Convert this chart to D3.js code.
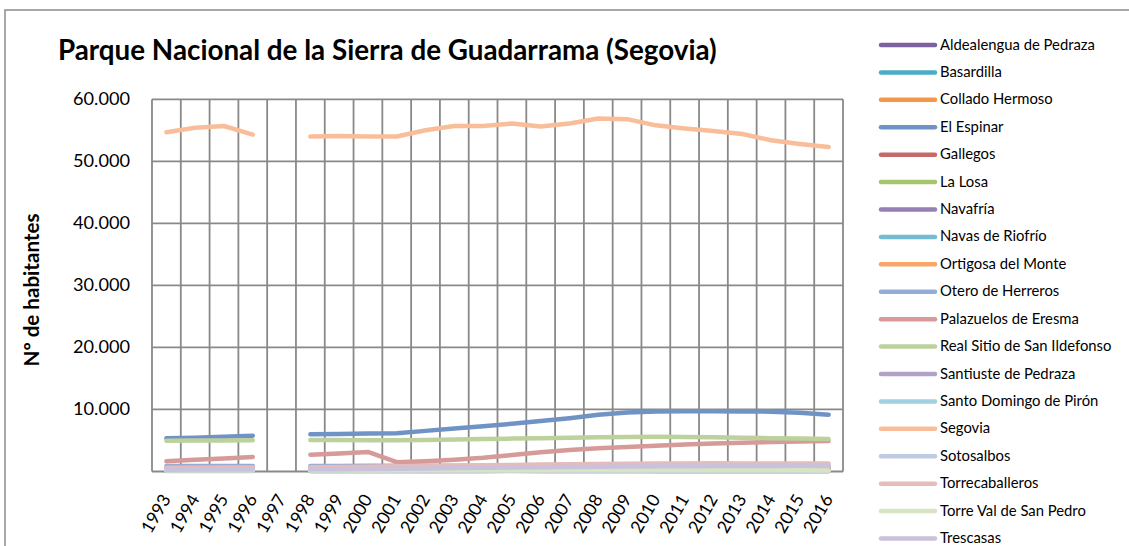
<!DOCTYPE html>
<html>
<head>
<meta charset="utf-8">
<script src="https://cdn.jsdelivr.net/npm/d3@7"></script>
<style>
  html, body { margin: 0; padding: 0; background: #ffffff; }
  svg { display: block; }
  text { font-family: Lato, "Open Sans", sans-serif; fill: #000; }
</style>
</head>
<body>
<svg id="chart" width="1129" height="546"></svg>
<script>
// Population by municipality, Parque Nacional de la Sierra de Guadarrama (Segovia side)
const years = ["1993","1994","1995","1996","1997","1998","1999","2000","2001","2002","2003","2004",
               "2005","2006","2007","2008","2009","2010","2011","2012","2013","2014","2015","2016"];

const yTicks = [10000, 20000, 30000, 40000, 50000, 60000];

const municipios = ["Aldealengua de Pedraza","Basardilla","Collado Hermoso","El Espinar","Gallegos",
  "La Losa","Navafría","Navas de Riofrío","Ortigosa del Monte","Otero de Herreros",
  "Palazuelos de Eresma","Real Sitio de San Ildefonso","Santiuste de Pedraza","Santo Domingo de Pirón",
  "Segovia","Sotosalbos","Torrecaballeros","Torre Val de San Pedro","Trescasas"];

// 1997 has no census figures (null)
const aldealengua   = [140,138,135,130,null,128,126,127,124,122,125,121,119,118,120,117,115,116,113,112,110,108,106,104];
const basardilla    = [150,148,152,155,null,157,160,162,165,170,172,175,178,180,182,178,175,176,172,170,168,165,163,160];
const colladoH      = [160,158,155,152,null,150,149,150,152,155,158,160,162,165,168,170,166,165,163,160,158,156,155,152];
const elEspinar     = [5350,5450,5600,5780,null,6000,6050,6120,6180,6550,6950,7300,7700,8150,8600,9150,9500,9680,9720,9700,9690,9640,9480,9150];
const gallegos      = [110,108,105,102,null,100,98,97,96,95,97,99,101,100,98,96,95,94,92,90,89,88,86,85];
const laLosa        = [430,440,445,450,null,455,460,465,470,480,490,500,510,520,530,535,540,545,540,535,530,525,520,515];
const navafria      = [330,335,340,345,null,345,350,352,355,358,360,362,365,368,370,372,370,368,365,362,358,355,352,350];
const navasRiofrio  = [290,295,300,305,null,310,315,320,325,330,340,350,360,370,380,385,390,388,385,380,375,370,365,360];
const ortigosa      = [330,335,340,345,null,350,360,370,385,400,420,440,460,480,500,520,535,545,550,555,550,545,540,535];
const oteroH        = [880,885,890,895,null,900,905,910,915,920,930,940,950,960,970,985,990,995,990,985,975,965,955,945];
const palazuelos    = [1650,1900,2100,2350,null,2700,2900,3150,1500,1650,1900,2200,2650,3100,3450,3750,3950,4150,4350,4500,4650,4750,4850,4920];
const realSitio     = [4950,4980,5000,5020,null,5080,5060,5050,5030,5080,5150,5220,5300,5380,5450,5520,5580,5600,5580,5520,5450,5380,5300,5250];
const santiuste     = [120,118,117,115,null,113,112,110,112,114,116,118,120,121,119,118,116,115,113,112,110,108,107,105];
const santoDomingo  = [70,68,66,65,null,64,63,62,61,60,62,63,64,65,63,62,61,60,59,58,57,56,55,54];
const segovia       = [54700,55400,55700,54300,null,54000,54100,54000,54000,55000,55700,55700,56100,55600,56100,56900,56800,55800,55300,54900,54400,53400,52800,52300];
const sotosalbos    = [110,108,106,105,null,104,103,104,106,108,110,112,115,118,120,122,120,118,116,114,112,110,108,106];
const torrecab      = [600,620,640,660,null,700,740,780,830,880,930,990,1050,1110,1160,1210,1250,1280,1300,1310,1300,1295,1290,1285];
const torreVal      = [190,188,186,185,null,183,182,180,182,184,186,188,190,192,194,196,195,193,190,188,186,184,182,180];
const trescasas     = [300,310,320,330,null,350,380,410,450,500,550,600,650,700,740,780,810,840,860,880,895,905,910,915];

const seriesValues = [aldealengua, basardilla, colladoH, elEspinar, gallegos, laLosa, navafria,
  navasRiofrio, ortigosa, oteroH, palazuelos, realSitio, santiuste, santoDomingo, segovia,
  sotosalbos, torrecab, torreVal, trescasas];

const colors = ["#7D60A0","#4BACC6","#F79646","#7093C6","#C46B6A","#A6C46E","#9580B3","#73BBD0",
  "#F9A66B","#95ACD6","#D69A98","#BCD19C","#B1A3C8","#9FD1DE","#F9BE99","#BFCBE3","#E4BCBB",
  "#D6E3C5","#CAC1DA"];

const svg = d3.select("#chart");

// outer chart frame (runs off the right and bottom edges)
svg.append("rect")
  .attr("x", 5).attr("y", 10).attr("width", 1200).attr("height", 600)
  .attr("fill", "none").attr("stroke", "#8c8c8c").attr("stroke-width", 1.5);

const plot = { left: 152, right: 843, top: 99.3, bottom: 471.5 };

const x = d3.scaleBand().domain(years).range([plot.left, plot.right]).padding(0);
const y = d3.scaleLinear().domain([0, 60000]).range([plot.bottom, plot.top]);

// fit a text element to a target width by adjusting its font size
function fitWidth(sel, target) {
  sel.each(function () {
    const el = this;
    const fs = parseFloat(el.getAttribute("font-size"));
    const w = el.getComputedTextLength();
    if (w > 0) el.setAttribute("font-size", (fs * target / w).toFixed(2));
  });
}

const grid = svg.append("g").attr("stroke", "#898989").attr("stroke-width", 1.8);

// horizontal gridlines (including baseline)
grid.selectAll("line.h").data([0].concat(yTicks)).join("line")
  .attr("x1", plot.left).attr("x2", plot.right)
  .attr("y1", d => y(d)).attr("y2", d => y(d));

// vertical gridlines on category boundaries
const bounds = years.map(d => x(d)).concat([plot.right]);
grid.selectAll("line.v").data(bounds).join("line")
  .attr("x1", d => d).attr("x2", d => d)
  .attr("y1", plot.top).attr("y2", plot.bottom);

// y axis labels (thousands with a dot)
const fmt = d3.formatLocale({ decimal: ",", thousands: ".", grouping: [3], currency: ["", "€"] }).format(",d");
const yLab = svg.append("g").selectAll("text").data(yTicks).join("text")
  .attr("x", 130).attr("y", d => y(d) + 6)
  .attr("text-anchor", "end").attr("font-size", 17)
  .text(d => fmt(d));
const probe = yLab.filter(d => d === 60000);
{
  const w = probe.node().getComputedTextLength();
  const fs = 17 * 57 / w;
  yLab.attr("font-size", fs.toFixed(2));
}

// x axis labels, rotated
const xLab = svg.append("g").selectAll("text").data(years).join("text")
  .attr("text-anchor", "end").attr("font-size", 16)
  .attr("transform", d => `translate(${x(d) + x.bandwidth() / 2 + 5},499) rotate(-60)`)
  .text(d => d);
{
  const w = xLab.node().getComputedTextLength();
  xLab.attr("font-size", (16 * 41 / w).toFixed(2));
}

// y axis title
const yTitle = svg.append("text")
  .attr("transform", "translate(39,290) rotate(-90)")
  .attr("text-anchor", "middle").attr("font-size", 15).attr("font-weight", "bold")
  .text("Nº de habitantes");
fitWidth(yTitle, 153);

// chart title
const title = svg.append("text")
  .attr("x", 58).attr("y", 60).attr("font-size", 24).attr("font-weight", "bold")
  .text("Parque Nacional de la Sierra de Guadarrama (Segovia)");
fitWidth(title, 659);

// series lines
const line = d3.line()
  .defined(d => d.v !== null)
  .x(d => x(d.year) + x.bandwidth() / 2)
  .y(d => y(d.v));

svg.append("g").selectAll("path").data(seriesValues).join("path")
  .attr("fill", "none")
  .attr("stroke", (d, i) => colors[i])
  .attr("stroke-width", 4.5)
  .attr("stroke-linecap", "round")
  .attr("stroke-linejoin", "round")
  .attr("d", vals => line(vals.map((v, j) => ({ year: years[j], v }))));

// legend
const rowY = d3.scalePoint().domain(municipios).range([45, 538.5]);
const leg = svg.append("g");
leg.selectAll("line").data(municipios).join("line")
  .attr("x1", 881).attr("x2", 935)
  .attr("y1", d => rowY(d)).attr("y2", d => rowY(d))
  .attr("stroke", (d, i) => colors[i]).attr("stroke-width", 4.5)
  .attr("stroke-linecap", "round");
const legText = leg.selectAll("text").data(municipios).join("text")
  .attr("x", 940).attr("y", d => rowY(d) + 4.5)
  .attr("font-size", 13)
  .text(d => d);
{
  const w = legText.node().getComputedTextLength();
  legText.attr("font-size", (13 * 155 / w).toFixed(2));
}
</script>
</body>
</html>
